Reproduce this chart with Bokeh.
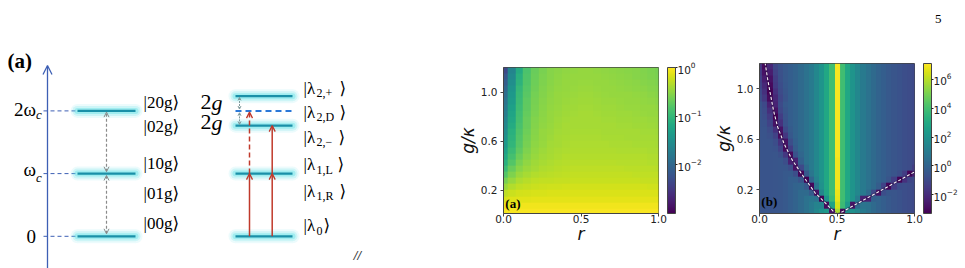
import numpy as np
from bokeh.plotting import figure
from bokeh.layouts import row, column
from bokeh.models import (Range1d, Arrow, OpenHead, ColorBar, LogColorMapper, FixedTicker,
                          PrintfTickFormatter, LogTickFormatter, Title)
from bokeh.palettes import Viridis256
from bokeh.core.properties import value
from bokeh.embed import file_html
from bokeh.resources import INLINE

# ======================= DATA =======================
# --- energy-level diagram (energies in units of omega_c) ---
bare_levels = [0.0, 1.0, 2.0]
bare_level_main = ["0", "ω", "2ω"]
bare_level_sub = ["", "c", "c"]
bare_states = ["|20g⟩", "|02g⟩", "|10g⟩", "|01g⟩", "|00g⟩"]
bare_state_y = [2.13, 1.75, 1.16, 0.68, 0.20]

two_g = 0.235
dressed_levels = [0.0, 1.0, 2.0 - two_g, 2.0 + two_g]
dark_level = 2.0
dressed_sub = ["2,+", "2,D", "2,−", "1,L", "1,R", "0"]
dressed_state_y = [2.36, 1.98, 1.58, 1.145, 0.72, 0.17]

# --- heat maps ---
r_ticks = [0.0, 0.5, 1.0]
g_ticks = [0.2, 0.6, 1.0]
cbar_a_ticks = [1e-2, 1e-1, 1e0]
cbar_b_ticks = [1e-2, 1e0, 1e2, 1e4, 1e6]

# panel (a): log10 values; columns r = 0, 0.05, ..., 1.0 ; rows g = 0.025, 0.075, ..., 1.175
a_log10 = [
    [-0.04, -0.03, -0.03, -0.03, -0.03, -0.03, -0.03, -0.03, -0.03, -0.03, -0.03, -0.03, -0.03, -0.03, -0.03, -0.03, -0.03, -0.03, -0.03, -0.03, -0.03],
    [-0.09, -0.08, -0.07, -0.07, -0.07, -0.07, -0.07, -0.07, -0.07, -0.07, -0.07, -0.07, -0.07, -0.07, -0.07, -0.07, -0.07, -0.07, -0.07, -0.07, -0.07],
    [-0.18, -0.15, -0.13, -0.13, -0.12, -0.12, -0.12, -0.12, -0.12, -0.12, -0.12, -0.12, -0.12, -0.12, -0.12, -0.12, -0.12, -0.12, -0.12, -0.12, -0.12],
    [-0.3, -0.24, -0.21, -0.19, -0.18, -0.18, -0.17, -0.17, -0.17, -0.17, -0.17, -0.17, -0.17, -0.17, -0.17, -0.17, -0.17, -0.17, -0.17, -0.17, -0.17],
    [-0.45, -0.35, -0.29, -0.26, -0.24, -0.23, -0.22, -0.22, -0.21, -0.21, -0.21, -0.21, -0.21, -0.21, -0.21, -0.21, -0.21, -0.21, -0.21, -0.22, -0.22],
    [-0.62, -0.46, -0.37, -0.32, -0.29, -0.28, -0.27, -0.26, -0.26, -0.25, -0.25, -0.25, -0.25, -0.25, -0.25, -0.25, -0.25, -0.25, -0.26, -0.26, -0.26],
    [-0.8, -0.58, -0.45, -0.39, -0.35, -0.32, -0.31, -0.3, -0.29, -0.28, -0.28, -0.28, -0.28, -0.28, -0.28, -0.28, -0.28, -0.29, -0.29, -0.29, -0.29],
    [-0.95, -0.69, -0.53, -0.45, -0.4, -0.36, -0.34, -0.32, -0.31, -0.3, -0.3, -0.3, -0.3, -0.3, -0.3, -0.3, -0.31, -0.31, -0.31, -0.31, -0.32],
    [-1.1, -0.8, -0.6, -0.5, -0.43, -0.39, -0.37, -0.35, -0.33, -0.32, -0.32, -0.32, -0.32, -0.32, -0.32, -0.33, -0.33, -0.33, -0.33, -0.34, -0.34],
    [-1.2, -0.88, -0.67, -0.54, -0.46, -0.42, -0.39, -0.37, -0.35, -0.34, -0.34, -0.34, -0.34, -0.34, -0.34, -0.35, -0.35, -0.35, -0.35, -0.36, -0.36],
    [-1.3, -0.96, -0.73, -0.58, -0.49, -0.44, -0.41, -0.38, -0.37, -0.36, -0.36, -0.36, -0.36, -0.36, -0.36, -0.37, -0.37, -0.37, -0.37, -0.38, -0.38],
    [-1.4, -1.02, -0.78, -0.62, -0.51, -0.46, -0.42, -0.4, -0.38, -0.37, -0.37, -0.37, -0.37, -0.37, -0.38, -0.38, -0.38, -0.39, -0.39, -0.39, -0.4],
    [-1.47, -1.06, -0.8, -0.64, -0.53, -0.47, -0.44, -0.41, -0.39, -0.38, -0.38, -0.38, -0.38, -0.39, -0.39, -0.39, -0.4, -0.4, -0.4, -0.41, -0.42],
    [-1.53, -1.1, -0.83, -0.66, -0.55, -0.48, -0.45, -0.42, -0.4, -0.39, -0.39, -0.39, -0.39, -0.4, -0.4, -0.41, -0.41, -0.41, -0.42, -0.42, -0.43],
    [-1.6, -1.15, -0.86, -0.68, -0.56, -0.5, -0.46, -0.43, -0.41, -0.4, -0.4, -0.4, -0.4, -0.41, -0.41, -0.42, -0.42, -0.43, -0.43, -0.44, -0.45],
    [-1.65, -1.2, -0.88, -0.69, -0.57, -0.51, -0.47, -0.44, -0.42, -0.41, -0.41, -0.41, -0.41, -0.42, -0.42, -0.43, -0.43, -0.44, -0.44, -0.45, -0.46],
    [-1.72, -1.25, -0.91, -0.71, -0.59, -0.52, -0.48, -0.45, -0.43, -0.42, -0.41, -0.41, -0.42, -0.43, -0.43, -0.44, -0.44, -0.45, -0.46, -0.47, -0.48],
    [-1.78, -1.3, -0.93, -0.73, -0.6, -0.53, -0.49, -0.46, -0.44, -0.43, -0.42, -0.42, -0.43, -0.44, -0.44, -0.45, -0.46, -0.46, -0.47, -0.48, -0.5],
    [-1.85, -1.35, -0.96, -0.75, -0.62, -0.55, -0.5, -0.47, -0.45, -0.44, -0.43, -0.43, -0.44, -0.45, -0.45, -0.46, -0.47, -0.48, -0.49, -0.5, -0.52],
    [-1.92, -1.4, -0.98, -0.77, -0.63, -0.56, -0.51, -0.48, -0.46, -0.45, -0.44, -0.44, -0.45, -0.46, -0.47, -0.48, -0.48, -0.49, -0.5, -0.52, -0.54],
    [-2.0, -1.45, -1.0, -0.79, -0.65, -0.57, -0.52, -0.49, -0.47, -0.46, -0.45, -0.45, -0.46, -0.47, -0.48, -0.49, -0.5, -0.51, -0.52, -0.54, -0.56],
    [-2.1, -1.52, -1.06, -0.81, -0.66, -0.58, -0.53, -0.5, -0.48, -0.47, -0.46, -0.46, -0.47, -0.48, -0.49, -0.5, -0.51, -0.52, -0.54, -0.56, -0.58],
    [-2.2, -1.58, -1.1, -0.83, -0.67, -0.59, -0.54, -0.51, -0.49, -0.48, -0.47, -0.47, -0.48, -0.49, -0.5, -0.51, -0.52, -0.54, -0.56, -0.58, -0.6],
    [-2.35, -1.65, -1.15, -0.85, -0.68, -0.6, -0.55, -0.52, -0.5, -0.49, -0.48, -0.48, -0.49, -0.5, -0.51, -0.52, -0.53, -0.55, -0.57, -0.59, -0.62],
]

# panel (b): log10 values; columns r = 0, 1/30, ..., 1.0 ; rows g = 0.025, 0.075, ..., 1.175
b_log10 = [
    [-0.6, -0.6, -0.6, -0.55, -0.5, -0.4, -0.2, 0.0, 0.3, 0.6, 1.0, 1.5, 2.0, 2.3, -2.8, 5.8, -3.1, 1.9, 1.9, 1.5, 1.0, 0.6, 0.3, 0.0, -0.2, -0.4, -0.55, -0.7, -0.8, -0.9, -1.0],
    [-0.6, -0.6, -0.6, -0.55, -0.5, -0.4, -0.2, 0.0, 0.3, 0.6, 1.0, 1.35, 1.4, -3.0, 2.7, 6.4, 3.8, 2.3, -2.8, 0.2, 0.7, 0.6, 0.3, 0.0, -0.2, -0.4, -0.55, -0.7, -0.8, -0.9, -1.0],
    [-0.6, -0.6, -0.6, -0.55, -0.5, -0.4, -0.2, 0.0, 0.3, 0.6, 0.8, 0.6, -3.3, 2.0, 3.7, 6.7, 3.9, 2.9, 2.1, 1.08, -2.3, -2.3, -0.12, 0.0, -0.2, -0.4, -0.55, -0.7, -0.8, -0.9, -1.0],
    [-0.6, -0.6, -0.6, -0.55, -0.5, -0.4, -0.2, 0.0, 0.3, 0.3, -0.3, -2.8, 1.5, 2.8, 3.9, 6.8, 3.9, 2.9, 2.1, 1.5, 1.0, 0.3, -1.0, -2.8, -0.8, -0.5, -0.55, -0.7, -0.8, -0.9, -1.0],
    [-0.6, -0.6, -0.6, -0.55, -0.5, -0.4, -0.2, 0.0, 0.08, -0.4, -3.1, 0.7, 1.95, 2.9, 3.9, 6.9, 3.9, 2.9, 2.1, 1.5, 1.0, 0.6, 0.3, -0.22, -1.2, -3.1, -1.35, -0.85, -0.8, -0.9, -1.0],
    [-0.6, -0.6, -0.6, -0.55, -0.5, -0.4, -0.2, -0.2, -0.6, -3.3, 0.1, 1.3, 2.1, 2.9, 3.9, 6.9, 3.9, 2.9, 2.1, 1.5, 1.0, 0.6, 0.3, 0.0, -0.2, -0.55, -1.35, -3.2, -1.8, -1.12, -1.0],
    [-0.6, -0.6, -0.6, -0.55, -0.5, -0.4, -0.35, -0.8, -3.1, -0.4, 0.8, 1.5, 2.1, 2.9, 3.9, 6.9, 3.9, 2.9, 2.1, 1.5, 1.0, 0.6, 0.3, 0.0, -0.2, -0.4, -0.55, -0.8, -1.4, -3.1, -2.3],
    [-0.6, -0.6, -0.6, -0.55, -0.5, -0.5, -0.8, -2.8, -1.0, 0.3, 1.0, 1.5, 2.1, 2.9, 3.9, 6.9, 3.9, 2.9, 2.1, 1.5, 1.0, 0.6, 0.3, 0.0, -0.2, -0.4, -0.55, -0.7, -0.8, -0.9, -1.42],
    [-0.6, -0.6, -0.6, -0.55, -0.5, -0.82, -2.3, -2.3, -0.12, 0.6, 1.0, 1.5, 2.1, 2.9, 3.9, 6.9, 3.9, 2.9, 2.1, 1.5, 1.0, 0.6, 0.3, 0.0, -0.2, -0.4, -0.55, -0.7, -0.8, -0.9, -1.1],
    [-0.6, -0.6, -0.6, -0.55, -0.75, -1.6, -3.0, -0.7, 0.15, 0.6, 1.0, 1.5, 2.1, 2.9, 3.9, 7.0, 3.9, 2.9, 2.1, 1.5, 1.0, 0.6, 0.3, 0.0, -0.2, -0.4, -0.55, -0.7, -0.8, -0.9, -1.0],
    [-0.6, -0.6, -0.6, -0.7, -1.2, -3.0, -1.4, -0.25, 0.3, 0.6, 1.0, 1.5, 2.1, 2.9, 3.9, 7.0, 3.9, 2.9, 2.1, 1.5, 1.0, 0.6, 0.3, 0.0, -0.2, -0.4, -0.55, -0.7, -0.8, -0.9, -1.0],
    [-0.6, -0.6, -0.6, -0.85, -1.8, -2.8, -0.8, -0.1, 0.3, 0.6, 1.0, 1.5, 2.1, 2.9, 3.9, 7.0, 3.9, 2.9, 2.1, 1.5, 1.0, 0.6, 0.3, 0.0, -0.2, -0.4, -0.55, -0.7, -0.8, -0.9, -1.0],
    [-0.6, -0.6, -0.75, -1.25, -3.0, -1.6, -0.45, 0.0, 0.3, 0.6, 1.0, 1.5, 2.1, 2.9, 3.9, 7.0, 3.9, 2.9, 2.1, 1.5, 1.0, 0.6, 0.3, 0.0, -0.2, -0.4, -0.55, -0.7, -0.8, -0.9, -1.0],
    [-0.6, -0.6, -0.9, -1.85, -2.8, -1.0, -0.3, 0.0, 0.3, 0.6, 1.0, 1.5, 2.1, 2.9, 3.9, 7.0, 3.9, 2.9, 2.1, 1.5, 1.0, 0.6, 0.3, 0.0, -0.2, -0.4, -0.55, -0.7, -0.8, -0.9, -1.0],
    [-0.6, -0.7, -1.2, -2.8, -1.8, -0.7, -0.2, 0.0, 0.3, 0.6, 1.0, 1.5, 2.1, 2.9, 3.9, 7.0, 3.9, 2.9, 2.1, 1.5, 1.0, 0.6, 0.3, 0.0, -0.2, -0.4, -0.55, -0.7, -0.8, -0.9, -1.0],
    [-0.6, -0.8, -1.5, -3.3, -1.4, -0.6, -0.2, 0.0, 0.3, 0.6, 1.0, 1.5, 2.1, 2.9, 3.9, 7.0, 3.9, 2.9, 2.1, 1.5, 1.0, 0.6, 0.3, 0.0, -0.2, -0.4, -0.55, -0.7, -0.8, -0.9, -1.0],
    [-0.6, -0.9, -1.9, -2.8, -1.1, -0.5, -0.2, 0.0, 0.3, 0.6, 1.0, 1.5, 2.1, 2.9, 3.9, 7.0, 3.9, 2.9, 2.1, 1.5, 1.0, 0.6, 0.3, 0.0, -0.2, -0.4, -0.55, -0.7, -0.8, -0.9, -1.0],
    [-0.6, -1.02, -2.3, -2.25, -0.92, -0.4, -0.2, 0.0, 0.3, 0.6, 1.0, 1.5, 2.1, 2.9, 3.9, 7.0, 3.9, 2.9, 2.1, 1.5, 1.0, 0.6, 0.3, 0.0, -0.2, -0.4, -0.55, -0.7, -0.8, -0.9, -1.0],
    [-0.9, -1.56, -3.0, -2.13, -1.1, -0.58, -0.2, 0.0, 0.3, 0.6, 1.0, 1.5, 2.1, 2.9, 3.9, 7.0, 3.9, 2.9, 2.1, 1.5, 1.0, 0.6, 0.3, 0.0, -0.2, -0.4, -0.55, -0.7, -0.8, -0.9, -1.0],
    [-1.0, -1.85, -3.3, -1.8, -0.92, -0.5, -0.2, 0.0, 0.3, 0.6, 1.0, 1.5, 2.1, 2.9, 3.9, 7.0, 3.9, 2.9, 2.1, 1.5, 1.0, 0.6, 0.3, 0.0, -0.2, -0.4, -0.55, -0.7, -0.8, -0.9, -1.0],
    [-1.15, -2.1, -3.05, -1.55, -0.83, -0.45, -0.2, 0.0, 0.3, 0.6, 1.0, 1.5, 2.1, 2.9, 3.9, 7.0, 3.9, 2.9, 2.1, 1.5, 1.0, 0.6, 0.3, 0.0, -0.2, -0.4, -0.55, -0.7, -0.8, -0.9, -1.0],
    [-1.3, -2.45, -2.8, -1.4, -0.75, -0.4, -0.2, 0.0, 0.3, 0.6, 1.0, 1.5, 2.1, 2.9, 3.9, 7.0, 3.9, 2.9, 2.1, 1.5, 1.0, 0.6, 0.3, 0.0, -0.2, -0.4, -0.55, -0.7, -0.8, -0.9, -1.0],
    [-1.45, -2.8, -2.45, -1.25, -0.71, -0.4, -0.2, 0.0, 0.3, 0.6, 1.0, 1.5, 2.1, 2.9, 3.9, 7.0, 3.9, 2.9, 2.1, 1.5, 1.0, 0.6, 0.3, 0.0, -0.2, -0.4, -0.55, -0.7, -0.8, -0.9, -1.0],
    [-1.6, -3.05, -2.1, -1.1, -0.67, -0.4, -0.2, 0.0, 0.3, 0.6, 1.0, 1.5, 2.1, 2.9, 3.9, 7.0, 3.9, 2.9, 2.1, 1.5, 1.0, 0.6, 0.3, 0.0, -0.2, -0.4, -0.55, -0.7, -0.8, -0.9, -1.0],
]

# zero curves (white dashed lines) in panel (b)
zero_left_r = [0.500, 0.477, 0.42, 0.36, 0.285, 0.21, 0.16, 0.116, 0.09, 0.069, 0.052, 0.037]
zero_left_g = [0.0, 0.026, 0.10, 0.172, 0.30, 0.437, 0.56, 0.70, 0.83, 0.966, 1.08, 1.2]
zero_right_r = [0.5, 1.0]
zero_right_g = [0.0, 0.34]

page_number = "5"

# ======================= STYLE / LAYOUT =======================
PX = 62.7        # pixels per omega_c in the diagram
E0 = 235.8       # pixel row of the zero level
H = 268
AX_C = "#3d5fb4"
RED = "#c0392b"
GLOW = "#5fe0e6"
CORE = "#1a90a8"
SERIF = value("Liberation Serif, DejaVu Serif, DejaVu Sans")
SANS = "DejaVu Sans"


def e(px):
    """pixel offset -> energy offset"""
    return px / PX


# ---------------- diagram figure ----------------
d = figure(width=450, height=H, x_range=Range1d(0, 450), y_range=Range1d((E0 - H) / PX, E0 / PX),
           output_backend="svg", toolbar_location=None, x_axis_location=None, y_axis_location=None,
           min_border=0, outline_line_color=None)
d.grid.visible = False
d.background_fill_color = "white"

d.add_layout(Arrow(end=OpenHead(size=9, line_color=AX_C, line_width=1.3),
                   x_start=47, y_start=(E0 - H) / PX, x_end=47, y_end=(E0 - 65) / PX,
                   line_color=AX_C, line_width=1.3))
d.segment(x0=[43] * 3, y0=bare_levels, x1=[77] * 3, y1=bare_levels,
          line_color=AX_C, line_dash="4 3", line_width=1)


def levels(x0, x1, ys):
    n = len(ys)
    for lw, a in [(14, 0.12), (10, 0.22), (6, 0.4)]:
        d.segment(x0=[x0] * n, y0=ys, x1=[x1] * n, y1=ys, line_width=lw,
                  line_color=GLOW, line_alpha=a, line_cap="round")
    d.segment(x0=[x0] * n, y0=ys, x1=[x1] * n, y1=ys, line_width=2.2, line_color=CORE)


levels(77, 135, bare_levels)
levels(235, 292, dressed_levels)
d.segment(x0=[235], y0=[dark_level], x1=[292], y1=[dark_level], line_color="#2b78d8",
          line_dash="6 4", line_width=2)

for ya, yb in [(bare_levels[0] + 0.04, bare_levels[1] - 0.03), (bare_levels[1] + 0.03, bare_levels[2] - 0.02)]:
    d.add_layout(Arrow(start=OpenHead(size=5, line_color="#8a8a8a", line_width=1),
                       end=OpenHead(size=5, line_color="#8a8a8a", line_width=1),
                       x_start=106, y_start=ya, x_end=106, y_end=yb,
                       line_color="#8a8a8a", line_dash="3 2", line_width=1.2))
for ya, yb in [(dark_level + 0.03, dressed_levels[3] - 0.02), (dressed_levels[2] + 0.02, dark_level - 0.03)]:
    d.add_layout(Arrow(start=OpenHead(size=3, line_color="#7f9a9c", line_width=1),
                       end=OpenHead(size=3, line_color="#7f9a9c", line_width=1),
                       x_start=239, y_start=ya, x_end=239, y_end=yb,
                       line_color="#7f9a9c", line_dash="2 1", line_width=1))

red_arrows = [(249, dressed_levels[0], dressed_levels[1], None),
              (249, dressed_levels[1], dark_level - 0.02, "5 3"),
              (271.7, dressed_levels[0], dressed_levels[1], None),
              (271.7, dressed_levels[1], dressed_levels[2], None)]
for x, ya, yb, dash in red_arrows:
    kw = dict(line_dash=dash) if dash else {}
    d.add_layout(Arrow(end=OpenHead(size=6, line_color=RED, line_width=1.3),
                       x_start=x, y_start=ya, x_end=x, y_end=yb,
                       line_color=RED, line_width=1.5, **kw))

d.text(x=[7], y=[(E0 - 60) / PX], text=["(a)"], text_font=SERIF, text_font_size="21px",
       text_font_style="bold", text_baseline="middle", text_align="left")
main_off = [e(0), e(4.5), e(1)]
d.text(x=[35.5] * 3, y=[l + o for l, o in zip(bare_levels, main_off)], text=bare_level_main,
       text_font=SERIF, text_font_size="19px", text_baseline="middle", text_align="right")
d.text(x=[35.5] * 2, y=[l - e(4) for l in bare_levels[1:]], text=bare_level_sub[1:],
       text_font=SERIF, text_font_size="13px", text_font_style="italic",
       text_baseline="middle", text_align="left")
d.text(x=[143] * 5, y=bare_state_y, text=bare_states, text_font=SERIF, text_font_size="17px",
       text_baseline="middle", text_align="left")
d.text(x=[200, 200], y=[(E0 - 101.7) / PX, (E0 - 121.7) / PX], text=["2", "2"], text_font=SERIF,
       text_font_size="22px", text_baseline="middle", text_align="left")
d.text(x=[211, 211], y=[(E0 - 101.7) / PX, (E0 - 121.7) / PX], text=["g", "g"], text_font=SERIF,
       text_font_size="22px", text_font_style="italic", text_baseline="middle", text_align="left")
n = len(dressed_sub)
sub_w = [23, 23, 22, 21, 23, 7]
d.text(x=[303] * n, y=dressed_state_y, text=["|λ"] * n, text_font=SERIF, text_font_size="17px",
       text_baseline="middle", text_align="left")
d.text(x=[316] * n, y=[yv - e(5) for yv in dressed_state_y], text=dressed_sub, text_font=SERIF,
       text_font_size="12px", text_baseline="middle", text_align="left")
d.text(x=[316 + w for w in sub_w], y=dressed_state_y, text=["⟩"] * n, text_font=SERIF,
       text_font_size="17px", text_baseline="middle", text_align="left")
d.text(x=[357], y=[(E0 - 255) / PX], text=["//"], text_font=value(SANS), text_font_size="11px",
       text_font_style="italic", text_baseline="middle", text_align="center", text_color="#333")


# ---------------- heat maps ----------------
def heat(frame_h, top, left, right, log_grid, low, high, cticks, tag, tag_y):
    grid = np.array(log_grid)
    nrows, ncols = grid.shape
    p = figure(frame_width=155, frame_height=frame_h, x_range=Range1d(0, 1), y_range=Range1d(0.01, 1.2),
               output_backend="svg", toolbar_location=None,
               min_border_left=left, min_border_right=right, min_border_top=top,
               min_border_bottom=H - top - frame_h)
    mapper = LogColorMapper(palette=Viridis256, low=low, high=high)
    step = 1.0 / (ncols - 1)
    p.image(image=[10.0 ** grid], x=-step / 2, y=0, dw=1 + step, dh=1.2, color_mapper=mapper)
    p.grid.visible = False
    p.outline_line_color = "#444"
    p.xaxis.ticker = FixedTicker(ticks=r_ticks)
    p.yaxis.ticker = FixedTicker(ticks=g_ticks)
    p.axis.formatter = PrintfTickFormatter(format="%.1f")
    p.axis.major_label_text_font = SANS
    p.axis.major_label_text_font_size = "10.5px"
    p.axis.major_label_text_color = "#222"
    p.axis.major_tick_out = 3
    p.axis.major_tick_in = 0
    p.axis.minor_tick_line_color = None
    p.axis.axis_line_color = "#444"
    p.axis.major_tick_line_color = "#444"
    p.xaxis.axis_label = "r"
    p.yaxis.axis_label = "g/κ"
    p.axis.axis_label_text_font = SANS
    p.axis.axis_label_text_font_size = "17px"
    p.axis.axis_label_text_font_style = "italic"
    p.axis.axis_label_text_color = "#111"
    p.xaxis.major_label_standoff = -2
    p.xaxis.axis_label_standoff = -2
    p.yaxis.major_label_standoff = 3
    p.yaxis.axis_label_standoff = 0
    p.text(x=[0.012], y=[tag_y], text=[tag], text_font=SERIF, text_font_size="13px",
           text_font_style="bold", text_baseline="middle", text_align="left")
    cb = ColorBar(color_mapper=mapper, ticker=FixedTicker(ticks=cticks), formatter=LogTickFormatter(),
                  width=8, height=frame_h, padding=0, location=(9, 0), major_tick_in=0,
                  major_tick_out=2, major_tick_line_color="#222", minor_tick_line_color=None,
                  bar_line_color="#444", label_standoff=0, major_label_text_font=SANS,
                  major_label_text_font_size="10.5px", major_label_text_color="#222",
                  background_fill_color=None, border_line_color=None)
    p.add_layout(cb, "right")
    return p


pa = heat(146, 67, 53, 52, a_log10, 10 ** -3.0, 1.0, cbar_a_ticks, "(a)", 0.095)
pb = heat(150, 63, 46, 54, b_log10, 10 ** -3.3, 10 ** 7.1, cbar_b_ticks, "(b)", 0.105)

pb.line(zero_left_r, zero_left_g, line_color="#2a0a45", line_width=2.5, line_alpha=0.45)
pb.line(zero_right_r, zero_right_g, line_color="#2a0a45", line_width=2.5, line_alpha=0.45)
pb.line(zero_left_r, zero_left_g, line_color="#f4f4f4", line_width=1.1, line_dash="3 2")
pb.line(zero_right_r, zero_right_g, line_color="#f4f4f4", line_width=1.1, line_dash="3 2")

# page number: a 3-line title block whose first line sits near the page top
pb.add_layout(Title(text=page_number + "\n \n ", align="right", offset=-27, standoff=15,
                    text_line_height=1.0, text_font="Liberation Serif", text_font_size="13px",
                    text_font_style="normal", text_color="black"),
              "above")

layout = row(column(d), column(pa), column(pb))
open("out.html", "w").write(file_html(layout, INLINE))
